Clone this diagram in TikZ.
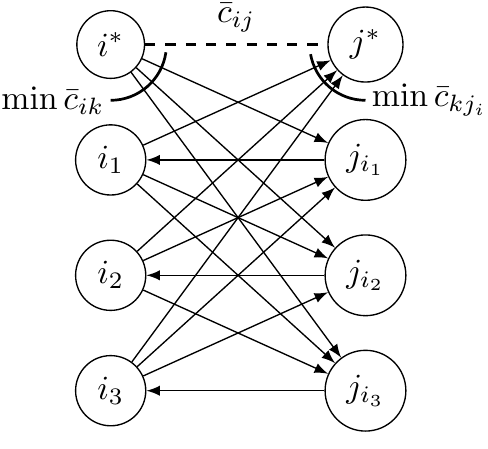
\documentclass[tikz,border=0pt]{standalone}
\usepackage{amsmath,amssymb}
\usepackage{tikz}

\begin{document}
\begin{tikzpicture}[node distance=1.2cm, auto,
    inode/.style={draw, circle, minimum size=0.69cm},
    jnode/.style={draw, circle, minimum size=0.77cm},
    minlabel/.style={inner sep=1.5pt}]
  \node (istar) [inode] {$i^*$};
  \node (i1) [inode, below of=istar] {$i_1$};
  \node (i2) [inode, below of=i1] {$i_2$};
  \node (i3) [inode, below of=i2] {$i_3$};
  \node (jstar) [jnode, right of=istar, xshift=1.45cm] {$j^*$};
  \node (ji1) [jnode, right of=i1, xshift=1.45cm] {$j_{i_1}$};
  \node (ji2) [jnode, right of=i2, xshift=1.45cm] {$j_{i_2}$};
  \node (ji3) [jnode, right of=i3, xshift=1.45cm] {$j_{i_3}$};

  \useasboundingbox ([xshift=-1.151cm, yshift=0.463cm]istar.center)
    rectangle ([xshift=3.924cm, yshift=-4.196cm]istar.center);

  \draw[dashed, thick] (istar) -- node[above] {$\bar{c}_{ij}$} (jstar);

  \draw[-latex] (istar) -- (ji1);
  \draw[-latex] (istar) -- (ji2);
  \draw[-latex] (istar) -- (ji3);
  \draw[-latex] (i1) -- (jstar);
  \draw[-latex] (i1) -- (ji2);
  \draw[-latex] (i1) -- (ji3);
  \draw[-latex] (i2) -- (jstar);
  \draw[-latex] (i2) -- (ji1);
  \draw[-latex] (i2) -- (ji3);
  \draw[-latex] (i3) -- (jstar);
  \draw[-latex] (i3) -- (ji1);
  \draw[-latex] (i3) -- (ji2);
  \draw[-latex] (ji1) -- (i1);
  \draw[-latex] (ji2) -- (i2);
  \draw[-latex] (ji3) -- (i3);

  \draw[thick] (istar.center) ++(-8:0.58cm) arc[start angle=-8, end angle=-90, radius=0.58cm]
    node[left, minlabel] {$\min \bar{c}_{ik}$};
  \draw[thick] (jstar.center) ++(190:0.58cm) arc[start angle=190, end angle=270, radius=0.58cm]
    node[right, minlabel] {$\min \bar{c}_{kj_i}$};
\end{tikzpicture}
\end{document}
